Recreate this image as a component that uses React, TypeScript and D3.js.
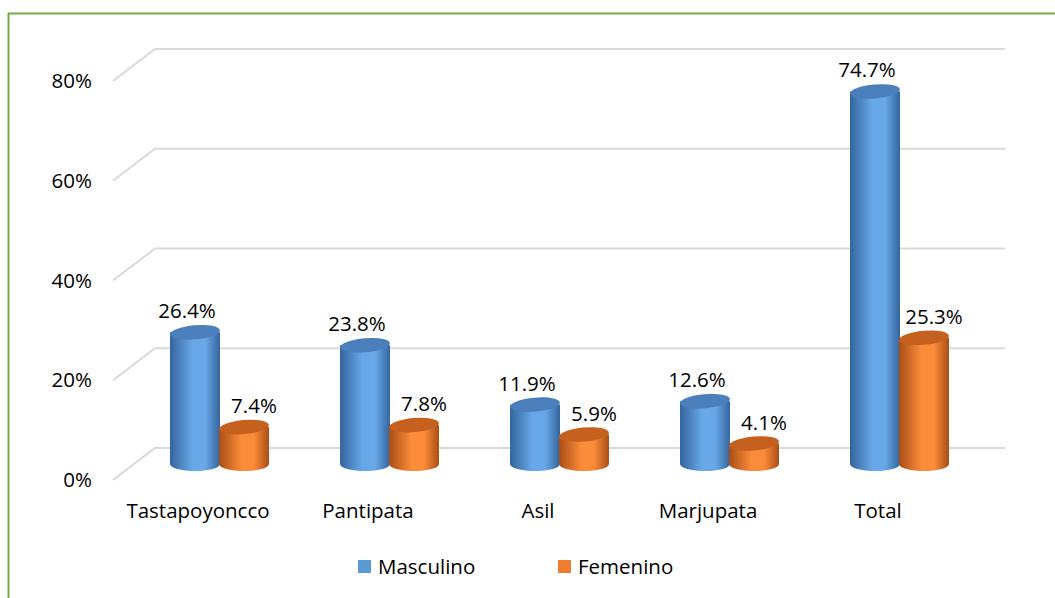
import { useMemo } from "react";
import { scaleBand, scaleLinear } from "d3";

const categories = ["Tastapoyoncco", "Pantipata", "Asil", "Marjupata", "Total"];
const masculino = [26.4, 23.8, 11.9, 12.6, 74.7];
const femenino = [7.4, 7.8, 5.9, 4.1, 25.3];
const yTicks = [0, 20, 40, 60, 80];
const seriesNames = ["Masculino", "Femenino"];

const W = 1055;
const H = 598;
const FONT = "'Open Sans', 'Noto Sans', sans-serif";
const FS = 20.5;

// depth of the 3D floor
const DX = 42;
const DY = -32;

const palette = [
  { edge: "#34659d", mid: "#68a8e8", top: "#4a7fbb", legend: "#5b9bd5" },
  { edge: "#a94e15", mid: "#fb8c3a", top: "#c6601e", legend: "#ed7d31" },
];

export default function App() {
  const x = useMemo(
    () => scaleBand<string>().domain(categories).range([113, 963]),
    []
  );
  const y = useMemo(() => scaleLinear().domain([0, 80]).range([480, 81]), []);

  const barW = 50;
  const ry = 7;
  const baseY = y(0) + DY / 2;

  const series = [masculino, femenino];

  return (
    <svg
      width={W}
      height={H}
      style={{ position: "absolute", left: 0, top: 0 }}
      fontFamily={FONT}
    >
      <defs>
        {palette.map((p, i) => (
          <linearGradient key={i} id={`cyl${i}`} x1="0" x2="1" y1="0" y2="0">
            <stop offset="0" stopColor={p.edge} />
            <stop offset="0.45" stopColor={p.mid} />
            <stop offset="0.7" stopColor={p.mid} />
            <stop offset="1" stopColor={p.edge} />
          </linearGradient>
        ))}
      </defs>
      <rect width={W} height={H} fill="#fff" />
      {/* green frame */}
      <line x1={8} x2={W} y1={13.5} y2={13.5} stroke="#70ad47" strokeWidth={2} />
      <line x1={8.5} x2={8.5} y1={13} y2={H} stroke="#70ad47" strokeWidth={2} />

      {/* gridlines: front diagonal + back wall */}
      {yTicks.map((t) => (
        <g key={t}>
          <polyline
            points={`${x.range()[0]},${y(t)} ${x.range()[0] + DX},${y(t) + DY} ${x.range()[1] + DX},${y(t) + DY}`}
            fill="none"
            stroke="#d9d9d9"
            strokeWidth={2}
          />
          <text
            x={92}
            y={y(t)}
            dy="0.35em"
            textAnchor="end"
            fontSize={FS}
            fill="#000"
          >
            {t}%
          </text>
        </g>
      ))}

      {/* cylinders */}
      {categories.map((c, ci) => {
        const gc = (x(c) ?? 0) + x.bandwidth() / 2 + DX / 2;
        return (
          <g key={c}>
            {series.map((s, si) => {
              const v = s[ci];
              const cx = gc + (si === 0 ? -barW / 2 + 1 : barW / 2);
              const topY = baseY - (y(0) - y(v));
              const l = cx - barW / 2;
              const r = cx + barW / 2;
              const body = `M${l},${topY} L${l},${baseY} A${barW / 2},${ry} 0 0 0 ${r},${baseY} L${r},${topY} Z`;
              return (
                <g key={si}>
                  <path d={body} fill={`url(#cyl${si})`} />
                  <ellipse
                    cx={cx}
                    cy={topY}
                    rx={barW / 2}
                    ry={ry}
                    fill={palette[si].top}
                    transform={`rotate(-5 ${cx} ${topY})`}
                  />
                  <text
                    x={cx + (si === 0 ? -8 : 10)}
                    y={topY - 14}
                    textAnchor="middle"
                    fontSize={FS}
                    fill="#000"
                  >
                    {v.toFixed(1)}%
                  </text>
                </g>
              );
            })}
          </g>
        );
      })}

      {/* category labels */}
      {categories.map((c) => (
        <text
          key={c}
          x={(x(c) ?? 0) + x.bandwidth() / 2}
          y={511}
          dy="0.35em"
          textAnchor="middle"
          fontSize={FS}
          fill="#000"
        >
          {c}
        </text>
      ))}

      {/* legend */}
      {seriesNames.map((n, i) => (
        <g key={n} transform={`translate(${358 + i * 200},560)`}>
          <rect width={13} height={13} fill={palette[i].legend} />
          <text x={20} y={7} dy="0.35em" fontSize={FS} fill="#000">
            {n}
          </text>
        </g>
      ))}
    </svg>
  );
}
